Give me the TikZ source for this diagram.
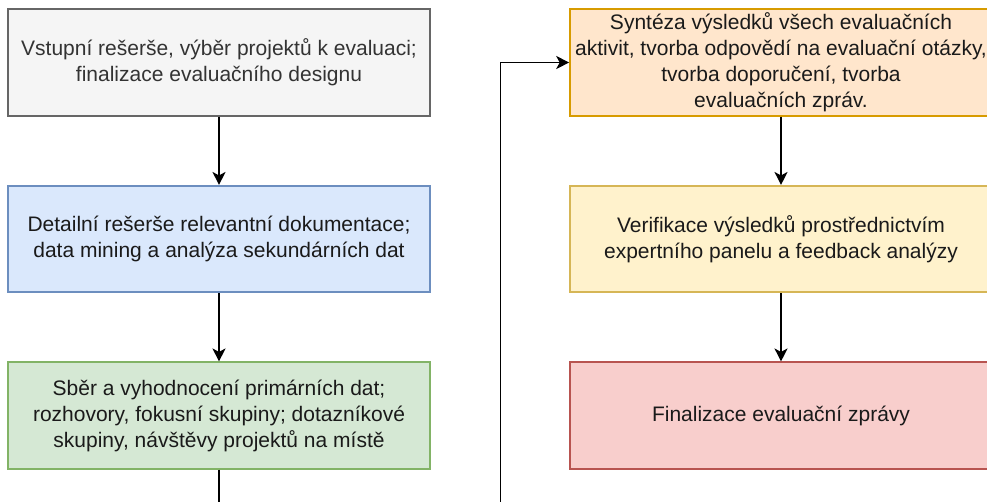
\documentclass[tikz,border=0pt]{standalone}
\usepackage{fontspec}
\setmainfont{Liberation Sans}
\usetikzlibrary{arrows.meta}
\definecolor{grayfill}{HTML}{F5F5F5}
\definecolor{graydraw}{HTML}{666666}
\definecolor{graytext}{HTML}{333333}
\definecolor{bluefill}{HTML}{DAE8FC}
\definecolor{bluedraw}{HTML}{6C8EBF}
\definecolor{greenfill}{HTML}{D5E8D4}
\definecolor{greendraw}{HTML}{82B366}
\definecolor{orangefill}{HTML}{FFE6CC}
\definecolor{orangedraw}{HTML}{D79B00}
\definecolor{yellowfill}{HTML}{FFF2CC}
\definecolor{yellowdraw}{HTML}{D6B656}
\definecolor{redfill}{HTML}{F8CECC}
\definecolor{reddraw}{HTML}{B85450}
\definecolor{txt}{HTML}{1A1A1A}
\begin{document}
\begin{tikzpicture}[x=1pt,y=-1pt,
  box/.style={draw, line width=1.6pt, minimum width=422pt, minimum height=106.5pt,
    align=center, inner sep=0pt, text=txt, font=\fontsize{21}{26}\selectfont},
  arr/.style={line width=1.5pt, -{Stealth[length=13pt,width=13pt,inset=3.5pt]}}]
\useasboundingbox (0,0) rectangle (987,501);
\clip (0,0) rectangle (987,501);
\node[box, fill=grayfill, draw=graydraw, text=graytext] (g) at (219,62.5)
  {Vstupní rešerše, výběr projektů k evaluaci;\\finalizace evaluačního designu};
\node[box, fill=bluefill, draw=bluedraw] (b) at (219,239)
  {Detailní rešerše relevantní dokumentace;\\data mining a analýza sekundárních dat};
\node[box, fill=greenfill, draw=greendraw] (gr) at (219,415.5)
  {Sběr a vyhodnocení primárních dat;\\rozhovory, fokusní skupiny; dotazníkové\\skupiny, návštěvy projektů na místě};
\node[box, fill=orangefill, draw=orangedraw] (o) at (781,62.5)
  {Syntéza výsledků všech evaluačních\\aktivit, tvorba odpovědí na evaluační otázky,\\tvorba doporučení, tvorba\\evaluačních zpráv.};
\node[box, fill=yellowfill, draw=yellowdraw] (y) at (781,239)
  {Verifikace výsledků prostřednictvím\\expertního panelu a feedback analýzy};
\node[box, fill=redfill, draw=reddraw] (r) at (781,415.5)
  {Finalizace evaluační zprávy};
\coordinate (c1) at (219,540);
\coordinate (c2) at (500.5,540);
\draw[arr] (g) -- (b);
\draw[arr] (b) -- (gr);
\draw[arr] (o) -- (y);
\draw[arr] (y) -- (r);
\draw[arr] (gr.south) -- (c1) -- (c2) |- (o.west);
\end{tikzpicture}
\end{document}
